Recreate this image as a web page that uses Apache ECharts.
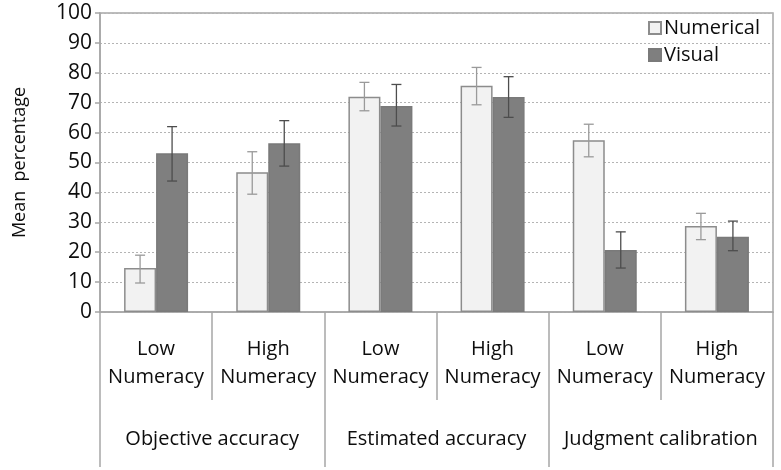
<!DOCTYPE html>
<html>
<head>
<meta charset="utf-8">
<script src="https://cdn.jsdelivr.net/npm/echarts@6/dist/echarts.min.js"></script>
<style>
html,body{margin:0;padding:0;background:#fff;}
#chart{width:781px;height:470px;}
</style>
</head>
<body>
<div id="chart"></div>
<script>
// ---- data ----
var categories = ['Low\nNumeracy', 'High\nNumeracy', 'Low\nNumeracy', 'High\nNumeracy', 'Low\nNumeracy', 'High\nNumeracy'];
var groups = ['Objective accuracy', 'Estimated accuracy', 'Judgment calibration'];
var yTicks = [0, 10, 20, 30, 40, 50, 60, 70, 80, 90, 100];
var numerical = [14.7, 46.7, 72.0, 75.7, 57.4, 28.8];
var numericalErrLow = [9.7, 39.4, 67.3, 69.3, 51.9, 24.2];
var numericalErrHigh = [19.0, 53.6, 76.8, 81.8, 62.8, 33.0];
var visual = [53.1, 56.4, 68.9, 71.9, 20.7, 25.2];
var visualErrLow = [43.8, 48.8, 62.2, 65.1, 14.7, 20.5];
var visualErrHigh = [62.0, 64.0, 76.1, 78.7, 26.8, 30.4];

var FONT = '"Open Sans", "Liberation Sans", sans-serif';
var LINE = '#a6a6a6';
var BAR_W = 32;
var TXT = '#0d0d0d';

function errorSeries(name, low, high, sign, color) {
  var data = low.map(function (v, i) { return [i, v, high[i]]; });
  return {
    name: name,
    type: 'custom',
    xAxisIndex: 0,
    z: 10,
    silent: true,
    data: data,
    encode: { x: 0, y: [1, 2] },
    renderItem: function (params, api) {
      var i = api.value(0);
      var pLo = api.coord([i, api.value(1)]);
      var pHi = api.coord([i, api.value(2)]);
      var x = pLo[0] + sign * BAR_W / 2;
      var cap = 5;
      var style = { stroke: color, lineWidth: 1.3 };
      return {
        type: 'group',
        children: [
          { type: 'line', shape: { x1: x, y1: pLo[1], x2: x, y2: pHi[1] }, style: style },
          { type: 'line', shape: { x1: x - cap, y1: pLo[1], x2: x + cap, y2: pLo[1] }, style: style },
          { type: 'line', shape: { x1: x - cap, y1: pHi[1], x2: x + cap, y2: pHi[1] }, style: style }
        ]
      };
    }
  };
}

var chart = echarts.init(document.getElementById('chart'), null, { renderer: 'canvas' });
chart.setOption({
  animation: false,
  backgroundColor: '#ffffff',
  textStyle: { fontFamily: FONT },
  grid: {
    left: 100, right: 8, top: 13, bottom: 158,
    show: true, borderColor: LINE, borderWidth: 1.5, backgroundColor: 'transparent'
  },
  legend: {
    data: ['Numerical', 'Visual'],
    orient: 'vertical',
    left: 643, top: 13,
    itemWidth: 12, itemHeight: 12, itemGap: 7,
    icon: 'rect',
    textStyle: { fontFamily: FONT, fontSize: 20, color: TXT, padding: [0, 0, 0, -2] }
  },
  xAxis: [
    {
      type: 'category',
      data: categories,
      position: 'bottom',
      axisLine: { show: true, lineStyle: { color: LINE, width: 1.5 } },
      axisTick: { show: true, length: 88, lineStyle: { color: LINE, width: 1.5 } },
      axisLabel: { margin: 23, fontFamily: FONT, fontSize: 20, lineHeight: 28, color: TXT, interval: 0 }
    },
    {
      type: 'category',
      data: groups,
      position: 'bottom',
      axisLine: { show: false },
      axisTick: { show: true, length: 155, lineStyle: { color: LINE, width: 1.5 } },
      axisLabel: { margin: 113, fontFamily: FONT, fontSize: 20, lineHeight: 28, color: TXT, interval: 0 }
    }
  ],
  yAxis: {
    type: 'value',
    min: yTicks[0], max: yTicks[yTicks.length - 1], interval: 10,
    name: 'Mean  percentage',
    nameLocation: 'middle',
    nameGap: 71,
    nameTextStyle: { fontFamily: FONT, fontSize: 18, color: TXT },
    axisLine: { show: true, lineStyle: { color: LINE, width: 1.5 } },
    axisTick: { show: true, length: 5, lineStyle: { color: LINE, width: 1.5 } },
    axisLabel: { margin: 8, fontFamily: FONT, fontSize: 21, color: TXT },
    splitLine: { show: true, lineStyle: { color: '#b4b4b4', type: [2, 2], width: 1 } }
  },
  series: [
    {
      name: 'Numerical', type: 'bar', xAxisIndex: 0, data: numerical,
      barWidth: BAR_W, barGap: '0%',
      itemStyle: { color: '#f2f2f2', borderColor: '#8c8c8c', borderWidth: 1.5 }
    },
    {
      name: 'Visual', type: 'bar', xAxisIndex: 0, data: visual,
      barWidth: BAR_W, barGap: '0%',
      itemStyle: { color: '#7f7f7f', borderColor: '#7a7a7a', borderWidth: 1.5 }
    },
    errorSeries('numErr', numericalErrLow, numericalErrHigh, -1, '#9a9a9a'),
    errorSeries('visErr', visualErrLow, visualErrHigh, 1, '#4d4d4d')
  ]
});
</script>
</body>
</html>
